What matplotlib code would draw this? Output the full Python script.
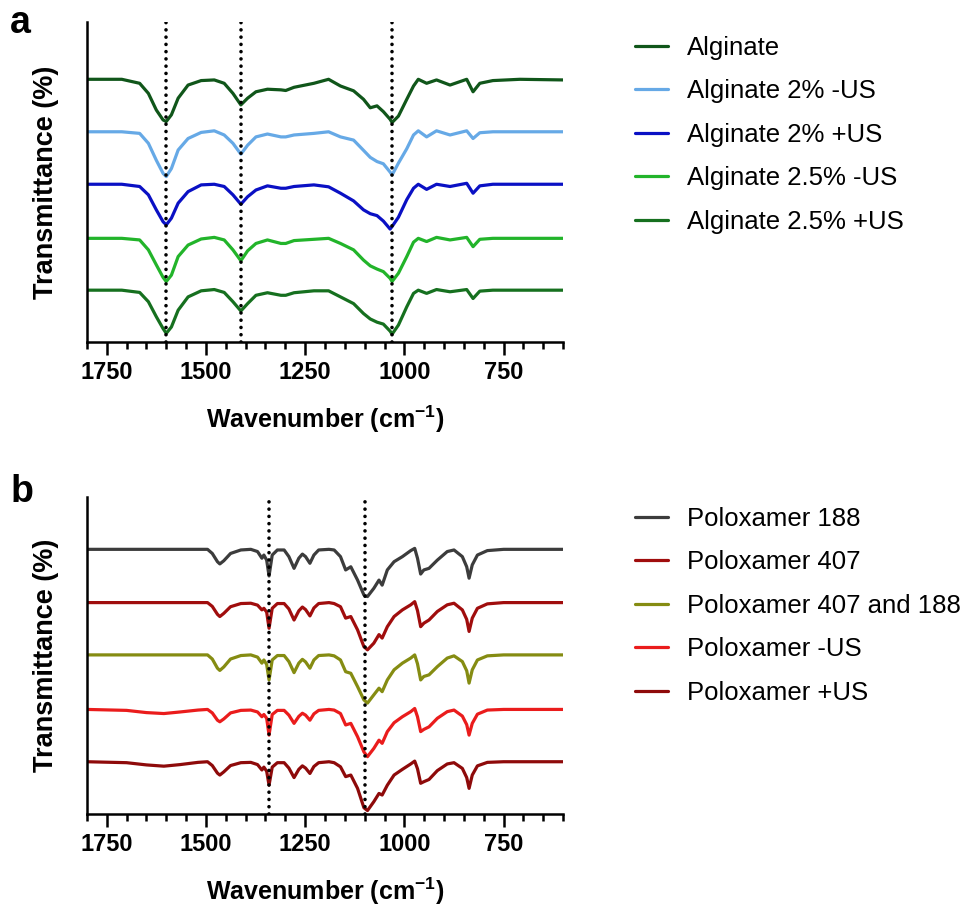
import numpy as np
import matplotlib
matplotlib.use('Agg')
import matplotlib.pyplot as plt

plt.rcParams['font.family'] = ['Liberation Sans', 'DejaVu Sans']
plt.rcParams['mathtext.fontset'] = 'custom'
plt.rcParams['mathtext.rm'] = 'Liberation Sans'
plt.rcParams['mathtext.bf'] = 'Liberation Sans:bold'
plt.rcParams['mathtext.default'] = 'bf'

# %% data, panel a (alginate) - depth of each band below the trace baseline
wn_a = [1800, 1712, 1667, 1645, 1625, 1608, 1600, 1587, 1570, 1545,
        1512, 1479, 1454, 1432, 1412, 1395, 1374, 1345, 1311, 1299,
        1278, 1228, 1191, 1161, 1128, 1103, 1086, 1069, 1053, 1036,
        1031, 1015, 994, 977, 965, 944, 919, 885, 843, 827,
        810, 777, 709, 600]

alg = [0, 0, 1.25, 4.4, 9.6, 12.7, 13.2, 11.1, 5.9, 1.8,
       0.4, 0.2, 1.25, 4.4, 8.0, 5.9, 3.9, 3.1, 3.3, 3.5,
       2.5, 1.25, 0, 2.1, 3.6, 6.25, 8.9, 8.3, 10.1, 12.5,
       13.5, 11.5, 6.25, 2.1, 0, 1.25, 0.2, 1.8, 0, 3.9,
       1.25, 0.4, 0, 0.2]
alg2_noUS = [0, 0, 0.5, 3.6, 8.9, 13.0, 14.0, 11.5, 5.7, 2.1,
             0.2, -0.3, 1.0, 3.6, 7.0, 4.2, 1.6, 0.7, 1.6, 1.6,
             1.0, 0.5, 0, 1.6, 2.6, 5.8, 8.0, 9.3, 10.0, 12.6,
             13.5, 9.8, 5.3, 1.0, -0.3, 1.6, -0.3, 1.0, -0.3, 2.1,
             0.3, 0, 0, 0]
alg2_US = [0, 0, 0.7, 3.3, 8.0, 11.7, 12.7, 10.6, 5.9, 2.3,
           0.2, 0, 0.7, 3.3, 6.25, 3.9, 1.8, 0.5, 1.25, 1.25,
           0.7, 0.2, 0.8, 2.8, 5.2, 8.0, 9.2, 9.8, 11.5, 14.0,
           13.2, 10.3, 4.8, 1.25, 0, 1.6, 0, 0.7, -0.3, 2.8,
           0.5, 0, 0, 0]
alg25_noUS = [0, 0, 0.5, 3.6, 8.3, 12.2, 13.5, 11.5, 5.7, 2.1,
              0.2, -0.3, 0.5, 3.6, 7.0, 3.9, 1.6, 0.5, 1.6, 1.6,
              0.7, 0.3, 0, 1.6, 3.6, 6.8, 8.6, 9.6, 10.4, 12.5,
              13.5, 10.9, 5.7, 1.2, 0, 1.0, -0.3, 0.5, -0.3, 2.6,
              0.3, 0, 0, 0]
alg25_US = [0, 0, 0.7, 3.6, 8.3, 12.0, 13.5, 11.5, 6.25, 2.1,
            0.2, -0.2, 0.7, 3.6, 6.5, 4.2, 1.6, 0.8, 1.6, 1.6,
            0.8, 0.2, 0.2, 2.1, 4.2, 7.3, 9.0, 10.0, 10.6, 12.8,
            13.75, 10.9, 5.2, 1.0, 0, 1.0, -0.2, 0.5, -0.2, 2.6,
            0.3, 0, 0, 0]

labels_a = ['Alginate', 'Alginate 2% -US', 'Alginate 2% +US',
            'Alginate 2.5% -US', 'Alginate 2.5% +US']
series_a = [alg, alg2_noUS, alg2_US, alg25_noUS, alg25_US]
base_a = [82.1, 65.7, 49.3, 32.4, 16.2]
colors_a = ['#10561a', '#66a9e6', '#0a10c4', '#22b42a', '#16701f']
marks_a = [1600, 1412, 1030]

# %% data, panel b (poloxamer)
wn_b = [1800, 1700, 1650, 1606, 1565, 1520, 1496, 1484, 1471, 1465,
        1455, 1438, 1412, 1387, 1370, 1359, 1354, 1347, 1341, 1333,
        1320, 1303, 1291, 1278, 1266, 1257, 1249, 1238, 1228, 1216,
        1190, 1177, 1161, 1148, 1135, 1118, 1102, 1093, 1077, 1064,
        1056, 1043, 1026, 1005, 984, 974, 967, 959, 951, 938,
        917, 892, 875, 854, 843, 837, 829, 816, 791, 750,
        600]

p188 = [0, 0, 0, 0, 0, 0, 0, 1.3, 3.9, 4.6,
        3.6, 1.3, 0.2, 0, 0.7, 2.8, 1.8, 3.4, 8.4, 1.8,
        0.2, 0.2, 2.3, 6.0, 2.8, 1.5, 2.3, 4.4, 1.8, 0.2,
        0, 0.2, 2.3, 6.5, 5.5, 9.7, 14.4, 14.9, 12.3, 9.7,
        11.3, 6.5, 3.9, 2.3, 0.4, -0.3, 2.8, 7.8, 6.5, 6.0,
        3.4, 0.7, 0.2, 2.3, 5.5, 9.1, 4.9, 1.8, 0.4, 0,
        0]
p407 = [0, 0, 0, 0, 0, 0, 0, 1.2, 3.7, 4.4,
        3.4, 1.3, 0.3, 0.2, 0.8, 2.3, 1.8, 3.0, 8.1, 1.8,
        0.3, 0.3, 2.0, 5.5, 2.6, 1.4, 2.2, 4.2, 1.7, 0.3,
        0, 0.3, 1.3, 4.9, 4.4, 8.6, 13.9, 14.9, 12.8, 10.1,
        11.2, 7.6, 4.4, 2.3, 0.7, -0.3, 2.5, 7.6, 6.5, 5.5,
        2.8, 0.7, 0.2, 2.3, 5.3, 9.1, 4.9, 1.8, 0.4, 0,
        0]
p407_188 = [0, 0, 0, 0, 0, 0, 0, 1.3, 4.2, 4.9,
            3.8, 1.3, 0.2, 0, 0.7, 2.6, 1.6, 3.0, 7.9, 1.6,
            0.2, 0.2, 2.1, 5.6, 2.6, 1.4, 2.2, 4.2, 1.6, 0.2,
            0, 0.3, 1.6, 5.3, 5.8, 10.0, 14.2, 15.2, 12.6, 10.5,
            11.6, 7.9, 4.7, 2.6, 1.0, 0, 2.8, 7.9, 6.8, 6.3,
            3.7, 1.0, 0.3, 2.1, 5.0, 8.9, 4.7, 1.6, 0.3, 0,
            0]
pol_noUS = [0, 0.3, 1.0, 1.3, 0.8, 0.2, 0, 1.1, 3.4, 3.9,
            3.0, 1.1, 0.3, 0.2, 0.8, 2.3, 1.6, 2.8, 8.1, 1.6,
            0.3, 0.3, 1.8, 4.4, 2.2, 1.2, 1.8, 3.4, 1.4, 0.3,
            0, 0.2, 1.3, 4.9, 4.4, 8.6, 13.4, 14.9, 12.3, 9.7,
            10.7, 7.0, 4.2, 2.3, 0.7, -0.3, 2.3, 7.0, 6.3, 5.5,
            2.8, 0.7, 0.2, 2.1, 4.8, 8.1, 4.4, 1.5, 0.2, 0,
            0]
pol_US = [0, 0.3, 1.0, 1.4, 0.9, 0.2, 0, 1.2, 3.6, 4.2,
          3.2, 1.2, 0.3, 0.2, 0.9, 2.6, 1.7, 3.0, 7.4, 1.7,
          0.3, 0.3, 2.0, 5.0, 2.4, 1.3, 2.0, 3.7, 1.5, 0.3,
          0, 0.3, 1.6, 4.7, 4.2, 8.4, 14.5, 15.4, 12.6, 10.0,
          10.5, 7.4, 4.2, 2.4, 0.7, -0.2, 2.2, 6.8, 6.3, 5.6,
          2.8, 0.7, 0.3, 2.1, 5.0, 8.4, 4.2, 1.3, 0.2, 0,
          0]

labels_b = ['Poloxamer 188', 'Poloxamer 407', 'Poloxamer 407 and 188',
            'Poloxamer -US', 'Poloxamer +US']
series_b = [p188, p407, p407_188, pol_noUS, pol_US]
base_b = [83.5, 66.7, 50.2, 33.0, 16.5]
colors_b = ['#3c3c3c', '#a00d0d', '#858c12', '#ea1c1c', '#8e0a0a']
marks_b = [1342, 1100]


def draw_panel(ax, wn, series, base, colors, labels, marks, legend_top):
    for s, b, c, lab in zip(series, base, colors, labels):
        ax.plot(wn, b - np.array(s), color=c, lw=2.3, label=lab,
                solid_joinstyle='round', solid_capstyle='round', zorder=2)
    for m in marks:
        ax.axvline(m, color='k', lw=2.6, ls=(0, (0.01, 2.0)),
                   dash_capstyle='round', zorder=3)
    ax.set_xlim(1800, 600)
    ax.set_ylim(0, 100)
    ax.set_xticks([1750, 1500, 1250, 1000, 750])
    ax.set_xticklabels(['1750', '1500', '1250', '1000', '750'],
                       fontweight='bold')
    ax.set_xticks(np.arange(600, 1801, 50), minor=True)
    ax.tick_params(axis='x', which='major', direction='out', length=9.5,
                   width=1.8, labelsize=17, pad=4)
    ax.tick_params(axis='x', which='minor', direction='out', length=5,
                   width=1.8)
    ax.set_yticks([])
    for sp in ['top', 'right']:
        ax.spines[sp].set_visible(False)
    for sp in ['left', 'bottom']:
        ax.spines[sp].set_linewidth(1.8)
    ax.set_xlabel('Wavenumber (cm$^{-1}$)', fontsize=18, fontweight='bold',
                  labelpad=14.5)
    ax.set_ylabel('Transmittance (%)', fontsize=19.5, fontweight='bold',
                  labelpad=20)
    ax.legend(loc='upper left', bbox_to_anchor=(635 / 976, legend_top),
              bbox_transform=fig.transFigure, frameon=False, fontsize=18.5,
              handlelength=1.3, handletextpad=0.74, labelspacing=0.76,
              borderpad=0, borderaxespad=0)


fig = plt.figure(figsize=(9.76, 9.06), dpi=100)
ax_a = fig.add_axes([0.089, 0.6225, 0.488, 0.3532])
ax_b = fig.add_axes([0.089, 0.1015, 0.488, 0.3499])

draw_panel(ax_a, wn_a, series_a, base_a, colors_a, labels_a, marks_a,
           1 - 35.6 / 906)
draw_panel(ax_b, wn_b, series_b, base_b, colors_b, labels_b, marks_b,
           1 - 506.6 / 906)

fig.text(20 / 976, 1 - 33 / 906, 'a', fontsize=27, fontweight='bold',
         ha='center', va='baseline')
fig.text(22 / 976, 1 - 502 / 906, 'b', fontsize=27, fontweight='bold',
         ha='center', va='baseline')

plt.savefig('out.png', dpi=100)
